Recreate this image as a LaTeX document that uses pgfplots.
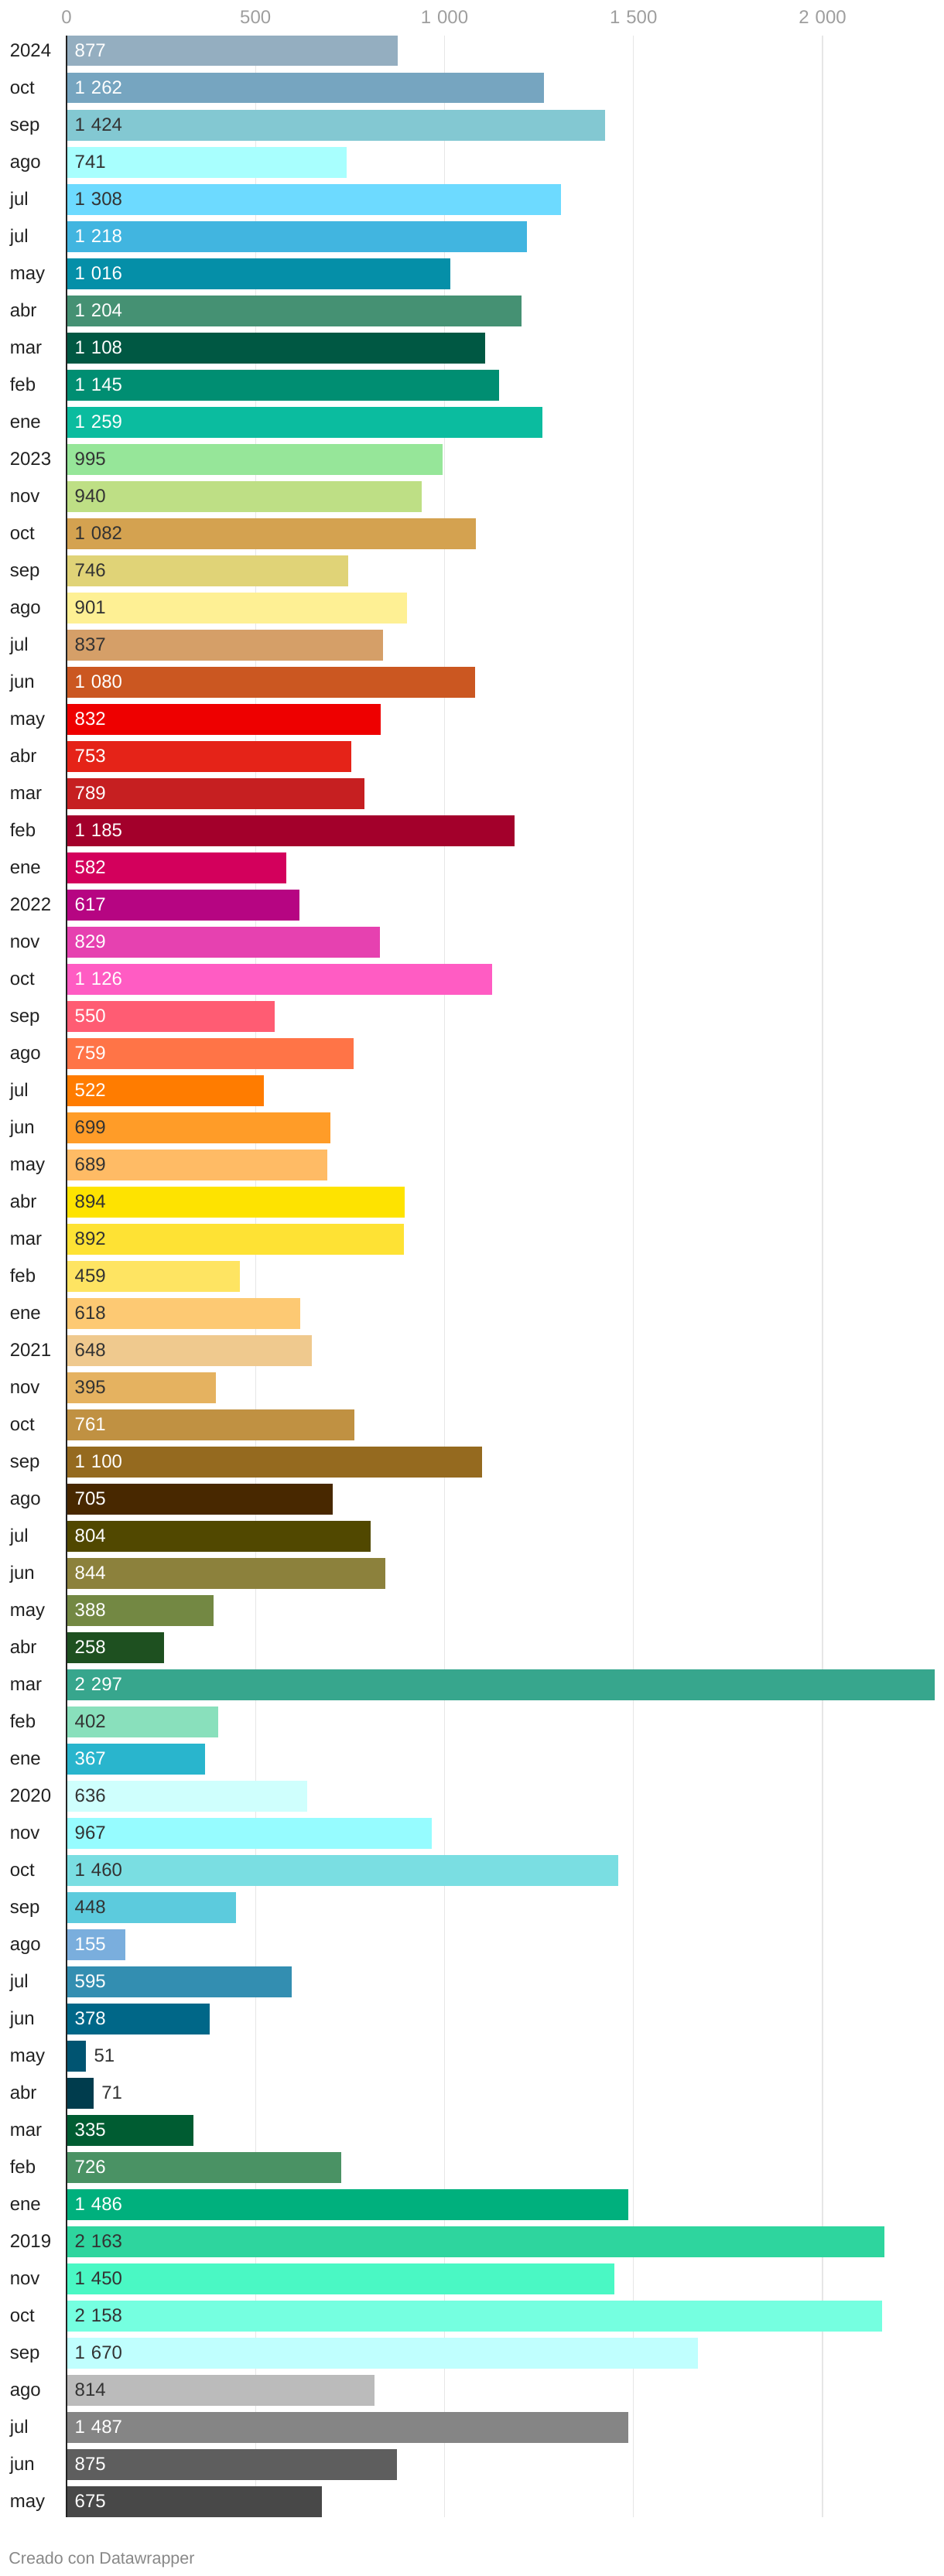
\documentclass[border=0pt]{standalone}
\usepackage{fontspec}
\setmainfont{Liberation Sans}
\usepackage{pgfplots}
\pgfplotsset{compat=1.18}
\definecolor{tickgray}{HTML}{9E9E9E}
\definecolor{gridgray}{HTML}{E6E6E6}
\definecolor{labelcol}{HTML}{222222}
\definecolor{darktext}{HTML}{333333}
\definecolor{axisdark}{HTML}{222222}
\definecolor{credit}{HTML}{888888}
\definecolor{c0}{HTML}{94AEC0}
\definecolor{c1}{HTML}{76A5C0}
\definecolor{c2}{HTML}{83C8D2}
\definecolor{c3}{HTML}{A8FFFE}
\definecolor{c4}{HTML}{6DDAFF}
\definecolor{c5}{HTML}{41B5E0}
\definecolor{c6}{HTML}{058FA8}
\definecolor{c7}{HTML}{459173}
\definecolor{c8}{HTML}{005843}
\definecolor{c9}{HTML}{008E72}
\definecolor{c10}{HTML}{0BBC9F}
\definecolor{c11}{HTML}{96E699}
\definecolor{c12}{HTML}{BEDF85}
\definecolor{c13}{HTML}{D4A250}
\definecolor{c14}{HTML}{E0D377}
\definecolor{c15}{HTML}{FEF094}
\definecolor{c16}{HTML}{D59F68}
\definecolor{c17}{HTML}{CB5721}
\definecolor{c18}{HTML}{EE0000}
\definecolor{c19}{HTML}{E52318}
\definecolor{c20}{HTML}{C61F21}
\definecolor{c21}{HTML}{A3002B}
\definecolor{c22}{HTML}{D3005C}
\definecolor{c23}{HTML}{B60582}
\definecolor{c24}{HTML}{E641B0}
\definecolor{c25}{HTML}{FF5CC3}
\definecolor{c26}{HTML}{FF5C73}
\definecolor{c27}{HTML}{FF7447}
\definecolor{c28}{HTML}{FF7C00}
\definecolor{c29}{HTML}{FF9C28}
\definecolor{c30}{HTML}{FFBB65}
\definecolor{c31}{HTML}{FEE300}
\definecolor{c32}{HTML}{FEE234}
\definecolor{c33}{HTML}{FEE462}
\definecolor{c34}{HTML}{FDC973}
\definecolor{c35}{HTML}{EFC98E}
\definecolor{c36}{HTML}{E5B260}
\definecolor{c37}{HTML}{C09142}
\definecolor{c38}{HTML}{956A1F}
\definecolor{c39}{HTML}{482800}
\definecolor{c40}{HTML}{514800}
\definecolor{c41}{HTML}{8C813C}
\definecolor{c42}{HTML}{738843}
\definecolor{c43}{HTML}{1E5020}
\definecolor{c44}{HTML}{37A68D}
\definecolor{c45}{HTML}{89E0BC}
\definecolor{c46}{HTML}{29B5CD}
\definecolor{c47}{HTML}{CFFFFD}
\definecolor{c48}{HTML}{96FCFF}
\definecolor{c49}{HTML}{7ADEE2}
\definecolor{c50}{HTML}{5CCBDD}
\definecolor{c51}{HTML}{7AAEDD}
\definecolor{c52}{HTML}{338EB1}
\definecolor{c53}{HTML}{006788}
\definecolor{c54}{HTML}{005471}
\definecolor{c55}{HTML}{003C4D}
\definecolor{c56}{HTML}{005C32}
\definecolor{c57}{HTML}{4A9264}
\definecolor{c58}{HTML}{00B07D}
\definecolor{c59}{HTML}{2ED59E}
\definecolor{c60}{HTML}{4AF8C4}
\definecolor{c61}{HTML}{75FFE0}
\definecolor{c62}{HTML}{C0FFFE}
\definecolor{c63}{HTML}{BBBBBB}
\definecolor{c64}{HTML}{858585}
\definecolor{c65}{HTML}{5E5E5E}
\definecolor{c66}{HTML}{484848}
\pgfplotsset{B/.style={xbar, bar width=19.65pt, bar shift=0pt, draw=none, fill=#1}}
\newcommand{\labfont}{\fontsize{12}{14.4}\selectfont}
\newcommand{\tsep}{\hspace{0.33em}}
\begin{document}
\begin{tikzpicture}
\useasboundingbox (0,0) rectangle (610pt,1665pt);
\begin{axis}[
  at={(43pt,38.2pt)}, anchor=south west,
  scale only axis, width=561.8pt, height=1603.7pt,
  xmin=0, xmax=2300, ymin=-0.41, ymax=66.41, y dir=reverse,
  axis line style={draw=none},
  tick style={draw=none},
  xtick={0,500,1000,1500,2000},
  xticklabels={0,500,1\tsep000,1\tsep500,2\tsep000},
  xticklabel pos=upper,
  xticklabel style={font=\labfont, text=tickgray, anchor=center, yshift=12.1pt},
  xmajorgrids, major grid style={line width=0.65pt, color=gridgray},
  ytick={0,...,66},
  yticklabels={2024,oct,sep,ago,jul,jul,may,abr,mar,feb,ene,2023,nov,oct,sep,ago,jul,jun,may,abr,mar,feb,ene,2022,nov,oct,sep,ago,jul,jun,may,abr,mar,feb,ene,2021,nov,oct,sep,ago,jul,jun,may,abr,mar,feb,ene,2020,nov,oct,sep,ago,jul,jun,may,abr,mar,feb,ene,2019,nov,oct,sep,ago,jul,jun,may},
  yticklabel style={font=\labfont, text=labelcol, anchor=base west, inner sep=0pt, xshift=-36.8pt, yshift=-3.8pt},
  /pgf/number format/assume math mode=true,
  /pgf/number format/.cd, fixed, precision=0, 1000 sep={\tsep},
  /pgfplots/.cd,
  clip=false,
]
\addplot[B=c0] coordinates {(877,0)};
\addplot[B=c1] coordinates {(1262,1)};
\addplot[B=c2] coordinates {(1424,2)};
\addplot[B=c3] coordinates {(741,3)};
\addplot[B=c4] coordinates {(1308,4)};
\addplot[B=c5] coordinates {(1218,5)};
\addplot[B=c6] coordinates {(1016,6)};
\addplot[B=c7] coordinates {(1204,7)};
\addplot[B=c8] coordinates {(1108,8)};
\addplot[B=c9] coordinates {(1145,9)};
\addplot[B=c10] coordinates {(1259,10)};
\addplot[B=c11] coordinates {(995,11)};
\addplot[B=c12] coordinates {(940,12)};
\addplot[B=c13] coordinates {(1082,13)};
\addplot[B=c14] coordinates {(746,14)};
\addplot[B=c15] coordinates {(901,15)};
\addplot[B=c16] coordinates {(837,16)};
\addplot[B=c17] coordinates {(1080,17)};
\addplot[B=c18] coordinates {(832,18)};
\addplot[B=c19] coordinates {(753,19)};
\addplot[B=c20] coordinates {(789,20)};
\addplot[B=c21] coordinates {(1185,21)};
\addplot[B=c22] coordinates {(582,22)};
\addplot[B=c23] coordinates {(617,23)};
\addplot[B=c24] coordinates {(829,24)};
\addplot[B=c25] coordinates {(1126,25)};
\addplot[B=c26] coordinates {(550,26)};
\addplot[B=c27] coordinates {(759,27)};
\addplot[B=c28] coordinates {(522,28)};
\addplot[B=c29] coordinates {(699,29)};
\addplot[B=c30] coordinates {(689,30)};
\addplot[B=c31] coordinates {(894,31)};
\addplot[B=c32] coordinates {(892,32)};
\addplot[B=c33] coordinates {(459,33)};
\addplot[B=c34] coordinates {(618,34)};
\addplot[B=c35] coordinates {(648,35)};
\addplot[B=c36] coordinates {(395,36)};
\addplot[B=c37] coordinates {(761,37)};
\addplot[B=c38] coordinates {(1100,38)};
\addplot[B=c39] coordinates {(705,39)};
\addplot[B=c40] coordinates {(804,40)};
\addplot[B=c41] coordinates {(844,41)};
\addplot[B=c42] coordinates {(388,42)};
\addplot[B=c43] coordinates {(258,43)};
\addplot[B=c44] coordinates {(2297,44)};
\addplot[B=c45] coordinates {(402,45)};
\addplot[B=c46] coordinates {(367,46)};
\addplot[B=c47] coordinates {(636,47)};
\addplot[B=c48] coordinates {(967,48)};
\addplot[B=c49] coordinates {(1460,49)};
\addplot[B=c50] coordinates {(448,50)};
\addplot[B=c51] coordinates {(155,51)};
\addplot[B=c52] coordinates {(595,52)};
\addplot[B=c53] coordinates {(378,53)};
\addplot[B=c54] coordinates {(51,54)};
\addplot[B=c55] coordinates {(71,55)};
\addplot[B=c56] coordinates {(335,56)};
\addplot[B=c57] coordinates {(726,57)};
\addplot[B=c58] coordinates {(1486,58)};
\addplot[B=c59] coordinates {(2163,59)};
\addplot[B=c60] coordinates {(1450,60)};
\addplot[B=c61] coordinates {(2158,61)};
\addplot[B=c62] coordinates {(1670,62)};
\addplot[B=c63] coordinates {(814,63)};
\addplot[B=c64] coordinates {(1487,64)};
\addplot[B=c65] coordinates {(875,65)};
\addplot[B=c66] coordinates {(675,66)};
% axis line
\addplot[color=axisdark, line width=0.85pt] coordinates {(0,-0.41) (0,66.41)};
% white labels
\addplot[draw=none, mark=none,
  nodes near coords, point meta=explicit,
  every node near coord/.append style={anchor=base west, inner sep=0pt, yshift=-3.8pt, text=white, font=\labfont}]
  table[meta=v] {
x y v
21 0 877
21 1 1262
21 5 1218
21 6 1016
21 7 1204
21 8 1108
21 9 1145
21 10 1259
21 17 1080
21 18 832
21 19 753
21 20 789
21 21 1185
21 22 582
21 23 617
21 24 829
21 25 1126
21 26 550
21 27 759
21 28 522
21 37 761
21 38 1100
21 39 705
21 40 804
21 41 844
21 42 388
21 43 258
21 44 2297
21 46 367
21 51 155
21 52 595
21 53 378
21 56 335
21 57 726
21 58 1486
21 64 1487
21 65 875
21 66 675
};
% dark labels
\addplot[draw=none, mark=none,
  nodes near coords, point meta=explicit,
  every node near coord/.append style={anchor=base west, inner sep=0pt, yshift=-3.8pt, text=darktext, font=\labfont}]
  table[meta=v] {
x y v
21 2 1424
21 3 741
21 4 1308
21 11 995
21 12 940
21 13 1082
21 14 746
21 15 901
21 16 837
21 29 699
21 30 689
21 31 894
21 32 892
21 33 459
21 34 618
21 35 648
21 36 395
21 45 402
21 47 636
21 48 967
21 49 1460
21 50 448
72 54 51
92 55 71
21 59 2163
21 60 1450
21 61 2158
21 62 1670
21 63 814
};
\end{axis}
\node[anchor=base west, inner sep=0pt, text=credit, font=\fontsize{10.75}{13}\selectfont] at (5.5pt,7.7pt) {Creado con Datawrapper};
\end{tikzpicture}
\end{document}
